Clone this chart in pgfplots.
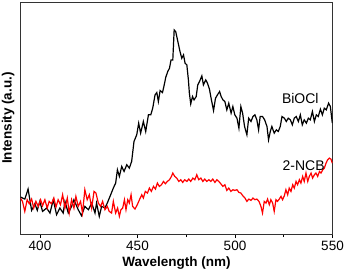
\documentclass[border=0pt]{standalone}
\usepackage{fontspec}
\setmainfont{Liberation Sans}
\usepackage{pgfplots}
\pgfplotsset{compat=1.18}
\begin{document}
\begin{tikzpicture}
\path[use as bounding box] (-20.5pt,-37pt) rectangle (323.5pt,234pt);
\begin{axis}[
  at={(0pt,0pt)}, anchor=south west,
  scale only axis, width=312pt, height=232pt,
  xmin=390, xmax=550, ymin=0, ymax=697,
  xtick={400,450,500,550}, minor xtick={425,475,525},
  ytick=\empty,
  tick align=outside, xtick pos=bottom,
  major tick length=4pt, minor tick length=3pt,
  every tick/.style={black, line width=0.8pt},
  axis line style={line width=1pt, black!80},
  /pgf/number format/assume math mode=true,
  /pgf/number format/set thousands separator={},
  xticklabel style={font=\fontsize{13.5}{16}\selectfont},
  xlabel={\bfseries Wavelength (nm)},
  ylabel={\bfseries Intensity (a.u.)},
  xlabel style={font=\fontsize{13.5}{16}\selectfont, at={(axis description cs:0.5,-0.125)}, anchor=center},
  ylabel style={font=\fontsize{13.5}{16}\selectfont, at={(axis description cs:-0.040,0.5)}, anchor=center, rotate=0},
]
\addplot[black, line width=1.2pt] coordinates {
(390.0,111) (392.2,105) (393.9,135) (395.7,71) (397.4,91) (398.6,71) (399.9,98) (401.3,68) (403.4,78) (405.1,63)
(406.8,103) (408.5,58) (410.2,78) (411.9,63) (412.8,98) (414.5,63) (416.2,83) (417.4,103) (419.6,73) (421.3,55)
(423.0,83) (424.8,73) (426.5,93) (428.2,63) (429.0,93) (430.4,53) (431.6,83) (433.3,78) (434.5,93) (435.9,113)
(437.6,138) (438.8,153) (439.7,193) (440.7,173) (441.9,203) (443.1,188) (444.5,208) (445.8,198) (447.0,218) (448.2,278)
(449.6,298) (450.6,333) (451.6,303) (453.0,338) (454.2,308) (455.6,358) (456.8,358) (457.8,378) (459.0,418) (459.9,425)
(460.7,398) (461.6,431) (462.8,425) (463.6,445) (464.5,471) (465.5,488) (466.4,498) (467.2,523) (468.1,523) (468.8,613)
(469.6,608) (470.7,578) (471.8,548) (472.7,528) (473.6,538) (474.4,513) (475.3,508) (476.1,463) (476.6,423) (477.3,391)
(478.2,413) (479.0,403) (480.1,413) (480.9,448) (481.8,458) (483.0,475) (483.8,448) (485.0,463) (485.9,453) (486.9,435)
(487.9,403) (489.0,371) (490.0,408) (491.0,418) (492.1,428) (492.9,413) (493.8,403) (494.8,398) (495.8,373) (496.8,393)
(498.0,363) (498.9,383) (499.9,358) (501.0,348) (502.0,318) (503.0,383) (503.9,363) (504.9,323) (506.1,298) (507.0,348)
(508.2,338) (509.2,353) (510.2,358) (511.2,343) (512.1,313) (512.9,353) (514.1,353) (515.2,343) (516.4,323) (517.2,283)
(518.1,308) (518.9,323) (520.1,303) (521.2,313) (522.2,308) (523.2,323) (524.1,353) (525.3,348) (526.3,338) (527.3,348)
(528.4,343) (529.4,328) (530.4,348) (531.4,353) (532.5,338) (533.5,358) (534.5,328) (535.5,343) (536.6,333) (537.6,348)
(538.6,343) (539.7,368) (540.7,338) (541.7,358) (542.7,353) (543.8,375) (544.8,358) (545.8,378) (546.8,373) (548.0,393)
(548.9,383) (549.9,333)
};
\addplot[red, line width=1.2pt] coordinates {
(390.0,108) (391.0,98) (392.2,68) (393.4,103) (394.5,91) (395.7,105) (396.8,78) (397.9,98) (399.1,83) (400.3,103)
(401.3,85) (402.5,103) (403.7,78) (404.7,98) (405.9,91) (407.1,108) (408.2,81) (409.3,103) (410.5,88) (411.6,118)
(412.8,78) (414.0,108) (415.0,63) (416.2,103) (417.4,78) (418.4,113) (419.6,83) (420.8,98) (421.8,63) (423.0,133)
(424.2,103) (425.3,118) (426.5,78) (427.7,128) (428.7,123) (429.9,93) (431.1,83) (432.1,98) (433.3,73) (434.5,83)
(435.5,68) (436.7,63) (437.6,98) (438.8,63) (439.8,78) (440.7,53) (441.5,73) (442.4,78) (443.3,103) (444.1,73)
(445.0,103) (445.8,93) (446.7,118) (447.5,83) (448.7,75) (449.9,88) (451.0,103) (452.2,118) (453.0,108) (454.0,128)
(455.1,123) (456.1,138) (457.1,128) (458.2,143) (459.2,135) (460.2,153) (461.2,143) (462.3,148) (463.3,158) (464.3,151)
(465.3,158) (466.4,163) (467.4,173) (468.1,183) (469.1,173) (470.1,168) (471.2,158) (472.2,163) (473.2,155) (474.2,163)
(475.3,158) (476.3,165) (477.3,158) (478.4,168) (479.4,163) (480.4,178) (481.4,163) (482.5,168) (483.5,158) (484.5,165)
(485.5,158) (486.6,163) (487.6,158) (488.6,165) (489.7,155) (490.7,163) (491.7,158) (492.7,151) (493.8,143) (494.8,148)
(495.8,131) (496.8,138) (497.9,128) (498.9,133) (499.9,131) (501.0,133) (502.0,125) (503.0,123) (504.0,115) (505.1,108)
(506.1,98) (507.1,105) (508.2,101) (509.2,108) (510.2,103) (511.2,105) (512.3,98) (513.3,83) (514.1,63) (515.0,98)
(515.9,93) (516.7,105) (517.6,88) (518.4,103) (519.3,93) (520.1,68) (521.0,103) (521.8,98) (522.7,105) (523.6,113)
(524.4,103) (525.3,115) (526.1,133) (527.0,118) (527.8,138) (528.7,128) (529.6,148) (530.4,138) (531.3,158) (532.1,148)
(533.0,163) (533.8,153) (534.7,173) (535.5,158) (536.4,183) (537.3,158) (538.1,173) (539.0,183) (539.8,168) (540.7,178)
(541.5,183) (542.4,173) (543.3,188) (544.1,183) (545.0,193) (545.8,198) (546.7,213) (547.5,223) (548.4,228) (549.2,225)
(549.9,213)
};
\node[font=\fontsize{14}{16}\selectfont] at (axis cs:533.5,406) {BiOCl};
\node[font=\fontsize{14}{16}\selectfont] at (axis cs:535.2,206) {2-NCB};
\end{axis}
\end{tikzpicture}
\end{document}
